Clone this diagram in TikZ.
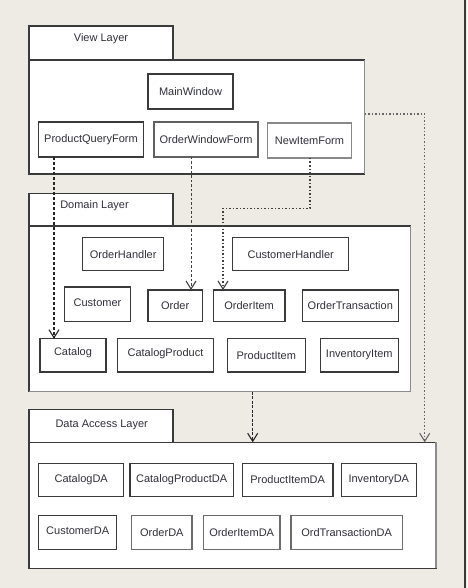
\documentclass[tikz,border=0pt]{standalone}
\usepackage{fontspec}
\setmainfont{Liberation Sans}
\usetikzlibrary{arrows.meta,calc}
\definecolor{bg}{HTML}{EEEAE4}
\definecolor{edge}{HTML}{3A3A3A}
\definecolor{txt}{HTML}{30303A}
\tikzset{
  x=1pt, y=-1pt,
  every node/.style={font=\fontsize{11}{13}\selectfont, text=txt},
  comp/.style={draw=edge, line width=1.2pt, fill=white, inner sep=0pt, outer sep=0pt, anchor=north west},
  layer/.style={draw=edge, line width=1.2pt, fill=white, inner sep=0pt, outer sep=0pt, anchor=north west},
  tip/.style={-{Straight Barb[length=8pt,width=10pt,line width=1.1pt]}},
  depA/.style={tip, draw=black!85, line width=1.3pt, dash pattern=on 3pt off 2pt},
  depB/.style={tip, draw=black!75, line width=0.9pt, dash pattern=on 2.5pt off 2pt},
  depC/.style={tip, draw=black!75, line width=1.3pt, dash pattern=on 1.5pt off 2pt},
  depD/.style={tip, draw=black!85, line width=1.3pt, dash pattern=on 3pt off 1.5pt},
  depE/.style={tip, draw=black!60, line width=1.3pt, dash pattern=on 1.5pt off 2pt},
  shade/.style={draw=black!45, line width=1.2pt},
}
\begin{document}
\begin{tikzpicture}
\useasboundingbox (0,0) rectangle (467,588);
\fill[bg] (0,0) rectangle (467,588);
\draw[edge, line width=2pt] (465,0) -- (465,588);

% View layer
\node[layer, minimum width=144pt, minimum height=34pt] (viewtab) at (29,26) {};
\node at (101,39) {View Layer};
\node[layer, minimum width=335.7pt, minimum height=114pt] (view) at (29,60) {};
\draw[shade] (view.north east) -- (view.south east);

% Domain layer
\node[layer, minimum width=144pt, minimum height=32.7pt] (domtab) at (29,193.3) {};
\node at (94.5,206) {Domain Layer};
\node[layer, minimum width=381.7pt, minimum height=165.7pt] (domain) at (29,226) {};
\draw[shade] (domain.north east) -- (domain.south east) -- (domain.south west);

% Data access layer
\node[layer, minimum width=144pt, minimum height=33pt] (datab) at (29,409.3) {};
\node at (101.7,424.5) {Data Access Layer};
\node[layer, minimum width=407pt, minimum height=126pt] (da) at (29,442.3) {};
\draw[shade] (da.north east) -- (da.south east);

% View components
\node[comp, minimum width=85pt, minimum height=35pt] (mainwin) at (148,74) {};
\node at (mainwin.center) {MainWindow};
\node[comp, minimum width=104.6pt, minimum height=35pt] (pqf) at (38.7,122) {};
\node at (pqf.center) {ProductQueryForm};
\node[comp, draw=edge!80, minimum width=104pt, minimum height=35pt] (owf) at (154,122) {};
\node at (owf.center) {OrderWindowForm};
\node[comp, draw=edge!60, minimum width=83.6pt, minimum height=35pt] (nif) at (267.7,123) {};
\node at (nif.center) {NewItemForm};

% Domain components
\node[comp, minimum width=81pt, minimum height=33pt] (ordh) at (82.7,237.7) {};
\node at (ordh.center) {OrderHandler};
\node[comp, minimum width=116pt, minimum height=33pt] (custh) at (232.7,237.7) {};
\node at (custh.center) {CustomerHandler};
\node[comp, minimum width=65.6pt, minimum height=34.7pt] (cust) at (64.7,287) {};
\node at ($(cust.center)+(0,-2)$) {Customer};
\node[comp, minimum width=54.3pt, minimum height=31.7pt] (order) at (148,290) {};
\node at (order.center) {Order};
\node[comp, minimum width=71.7pt, minimum height=31.7pt] (oitem) at (213.3,290) {};
\node at (oitem.center) {OrderItem};
\node[comp, minimum width=96pt, minimum height=31.7pt] (otrans) at (302.3,290) {};
\node at (otrans.center) {OrderTransaction};
\node[comp, minimum width=66pt, minimum height=33.3pt] (catalog) at (40,338.7) {};
\node at ($(catalog.center)+(0,-3)$) {Catalog};
\node[comp, minimum width=96.4pt, minimum height=33.3pt] (catprod) at (117.3,338.7) {};
\node at ($(catprod.center)+(0,-2)$) {CatalogProduct};
\node[comp, minimum width=78pt, minimum height=33.3pt] (pitem) at (227.3,338.7) {};
\node at (pitem.center) {ProductItem};
\node[comp, minimum width=78pt, minimum height=33.3pt] (iitem) at (320.3,338.7) {};
\node at (iitem.center) {InventoryItem};

% Data access components
\node[comp, minimum width=85pt, minimum height=33.4pt] (catda) at (38.7,463.3) {};
\node at (catda.center) {CatalogDA};
\node[comp, minimum width=103.3pt, minimum height=33.4pt] (cpda) at (130,463.3) {};
\node at (cpda.center) {CatalogProductDA};
\node[comp, minimum width=90.7pt, minimum height=33.4pt] (pida) at (242.3,463.3) {};
\node at (pida.center) {ProductItemDA};
\node[comp, minimum width=75pt, minimum height=33.4pt] (invda) at (341.3,463.3) {};
\node at (invda.center) {InventoryDA};
\node[comp, minimum width=78pt, minimum height=34pt] (custda) at (38.7,515.3) {};
\node at ($(custda.center)+(0,-2)$) {CustomerDA};
\node[comp, draw=edge!75, minimum width=60.3pt, minimum height=34pt] (ordda) at (131.7,515.3) {};
\node at (ordda.center) {OrderDA};
\node[comp, draw=edge!75, minimum width=76.7pt, minimum height=34pt] (oida) at (203.3,515.3) {};
\node at (oida.center) {OrderItemDA};
\node[comp, draw=edge!75, minimum width=111.3pt, minimum height=34pt] (otda) at (291,515.3) {};
\node at (otda.center) {OrdTransactionDA};

% Connectors
\coordinate (bendA) at (310,208.3);
\coordinate (bendB) at (223,208.3);
\coordinate (bendC) at (424.7,114);
\draw[depA] (pqf.south -| 54,0) -- (catalog.north -| 54,0);
\draw[depB] (owf.south -| 191,0) -- (order.north -| 191,0);
\draw[depC] (nif.south -| bendA) -- (bendA) -- (bendB) -- (oitem.north -| bendB);
\draw[depD] (domain.south -| 252.7,0) -- (da.north -| 252.7,0);
\draw[depE] (view.east |- bendC) -- (bendC) -- (da.north -| bendC);
\end{tikzpicture}
\end{document}
